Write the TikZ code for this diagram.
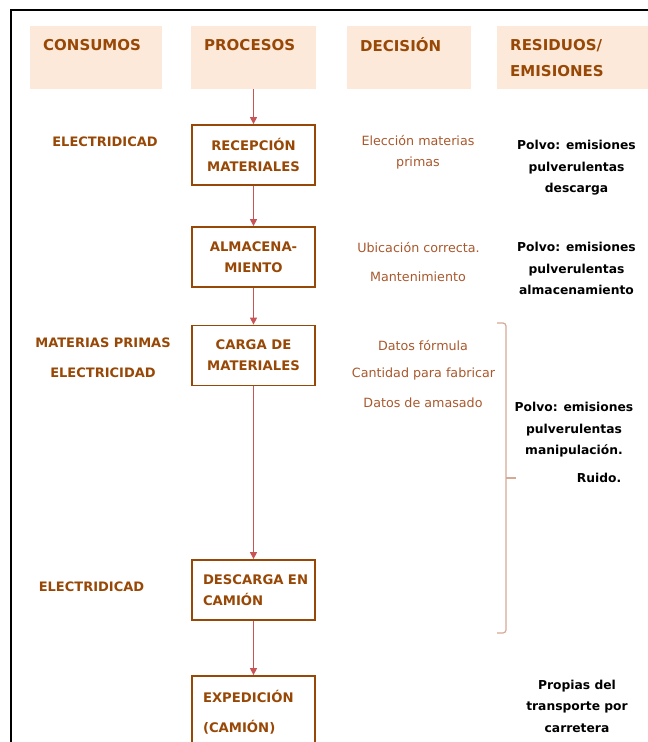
\documentclass[tikz,border=0pt]{standalone}
\usepackage{fontspec}
\setmainfont{DejaVu Sans}
\usetikzlibrary{arrows.meta}
\definecolor{hdrfill}{RGB}{253,233,217}
\definecolor{brn}{RGB}{152,72,6}
\definecolor{dcsnc}{RGB}{168,88,45}
\definecolor{arw}{RGB}{200,85,85}
\definecolor{brc}{RGB}{214,168,150}
\tikzset{
  hdr/.style={fill=hdrfill, anchor=north west, minimum height=63pt, inner xsep=13pt,
    align=left, text=brn, font=\fontsize{15}{26}\selectfont\bfseries},
  proc/.style={draw=brn, line width=1.8pt, minimum width=123.5pt, minimum height=60pt,
    align=center, text=brn, font=\fontsize{13.2}{21}\selectfont\bfseries},
  cons/.style={inner sep=0pt, text=brn, font=\fontsize{13}{21}\selectfont\bfseries},
  dcsn/.style={inner sep=0pt, align=center, text=dcsnc, font=\fontsize{12.7}{21}\selectfont},
  resid/.style={inner sep=0pt, align=center, font=\fontsize{12.3}{21.5}\selectfont\bfseries},
  flow/.style={draw=arw, line width=1.3pt, -{Triangle[width=7pt,length=7pt]}},
}
\begin{document}
\begin{tikzpicture}[x=1pt,y=-1pt]
	\useasboundingbox (0,0) rectangle (648,742);
	
	% marco
	\draw[line width=1.6pt] (648,10) -- (11,10) -- (11,742);
	
	% cabeceras
	\node[hdr, text width=106pt] (hcon) at (30,26) {CONSUMOS\\\mbox{}};
	\node[hdr, text width=99pt] (hpro) at (191,26) {PROCESOS\\\mbox{}};
	\node[hdr, text width=98pt] (hdec) at (347,26) {DECISIÓN\\\mbox{}};
	\node[hdr, text width=125pt] (hres) at (497,26) {RESIDUOS/\\EMISIONES};
	
	% procesos
	\node[proc] (rec) at (253.5,155) {RECEPCIÓN\\MATERIALES};
	\node[proc] (alm) at (253.5,257) {ALMACENA-\\MIENTO};
	\node[proc] (car) at (253.5,355.5) {CARGA DE\\MATERIALES};
	\node[proc, text width=101pt, align=left] (des) at (253.5,590) {DESCARGA~EN\\CAMIÓN};
	\node[proc, text width=101pt, align=left, minimum height=72pt] (exp) at (253.5,712)
		{EXPEDICIÓN\\[9pt](CAMIÓN)};
	
	\draw[flow] (hpro.south -| rec.north) -- (rec.north);
	\draw[flow] (rec) -- (alm);
	\draw[flow] (alm) -- (car);
	\draw[flow] (car) -- (des);
	\draw[flow] (des) -- (exp);
	
	% consumos
	\node[cons] (c1) at (105,142) {ELECTRIDICAD};
	\node[cons] (c2) at (103,343) {MATERIAS PRIMAS};
	\node[cons] (c3) at (103,372.5) {ELECTRICIDAD};
	\node[cons] (c4) at (91.5,587) {ELECTRIDICAD};
	
	% decision
	\node[dcsn] (d1) at (418,152.5) {Elección materias\\primas};
	\node[dcsn] (d2) at (418.5,248) {Ubicación correcta.};
	\node[dcsn] (d3) at (418,277) {Mantenimiento};
	\node[dcsn] (d4) at (423,346) {Datos fórmula};
	\node[dcsn] (d5) at (423.5,374) {Cantidad para fabricar};
	\node[dcsn] (d6) at (423,403) {Datos de amasado};
	
	% residuos / emisiones
	\node[resid] (r1) at (576.5,168) {Polvo: emisiones\\pulverulentas\\descarga};
	\node[resid] (r2) at (576.5,268.5) {Polvo: emisiones\\pulverulentas\\almacenamiento};
	\node[resid] (r3) at (574,430) {Polvo: emisiones\\pulverulentas\\manipulación.};
	\node[resid] (r4) at (599,478) {Ruido.};
	\node[resid] (r5) at (577,706) {Propias del\\transporte por\\carretera};
	
	% llave
	\coordinate (bt) at (497,323);
	\coordinate (bm) at (506,478);
	\coordinate (bb) at (497,633);
	\draw[brc, line width=1.2pt, rounded corners=3pt] (bt) -| (bm) |- (bb);
	\draw[brc, line width=1.2pt] (bm) -- ++(10,0);
\end{tikzpicture}
\end{document}
